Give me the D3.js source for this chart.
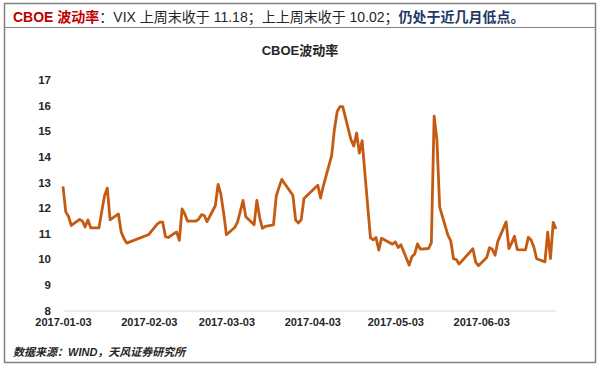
<!DOCTYPE html>
<html lang="zh">
<head>
<meta charset="utf-8">
<title>CBOE波动率</title>
<script src="https://cdn.jsdelivr.net/npm/d3@7"></script>
<style>
  body { margin: 0; background: #fff; }
  svg { display: block; }
  .axis text { font-family: "Liberation Sans", Arial, sans-serif; font-weight: bold; fill: #262626; }
  .axis--y .domain { display: none; }
</style>
</head>
<body>
<svg id="chart" width="600" height="368"></svg>
<script>

// VIX daily close, Wind calendar (China trading days)
var dates = [
  "2017-01-03","2017-01-04","2017-01-05","2017-01-06","2017-01-09","2017-01-10","2017-01-11","2017-01-12","2017-01-13",
  "2017-01-16","2017-01-17","2017-01-18","2017-01-19","2017-01-20","2017-01-23","2017-01-24","2017-01-25","2017-01-26",
  "2017-02-03","2017-02-06","2017-02-07","2017-02-08","2017-02-09","2017-02-10","2017-02-13","2017-02-14","2017-02-15",
  "2017-02-16","2017-02-17","2017-02-20","2017-02-21","2017-02-22","2017-02-23","2017-02-24","2017-02-27","2017-02-28",
  "2017-03-01","2017-03-02","2017-03-03","2017-03-06","2017-03-07","2017-03-08","2017-03-09","2017-03-10","2017-03-13",
  "2017-03-14","2017-03-15","2017-03-16","2017-03-17","2017-03-20","2017-03-21","2017-03-22","2017-03-23","2017-03-24",
  "2017-03-27","2017-03-28","2017-03-29","2017-03-30","2017-03-31","2017-04-05","2017-04-06","2017-04-07","2017-04-10",
  "2017-04-11","2017-04-12","2017-04-13","2017-04-14","2017-04-17","2017-04-18","2017-04-19","2017-04-20","2017-04-21",
  "2017-04-24","2017-04-25","2017-04-26","2017-04-27","2017-04-28","2017-05-02","2017-05-03","2017-05-04","2017-05-05",
  "2017-05-08","2017-05-09","2017-05-10","2017-05-11","2017-05-12","2017-05-15","2017-05-16","2017-05-17","2017-05-18",
  "2017-05-19","2017-05-22","2017-05-23","2017-05-24","2017-05-25","2017-05-26","2017-05-31","2017-06-01","2017-06-02",
  "2017-06-05","2017-06-06","2017-06-07","2017-06-08","2017-06-09","2017-06-12","2017-06-13","2017-06-14","2017-06-15",
  "2017-06-16","2017-06-19","2017-06-20","2017-06-21","2017-06-22","2017-06-23","2017-06-26","2017-06-27","2017-06-28",
  "2017-06-29","2017-06-30"
];

var vix = [
  12.85,11.85,11.67,11.32,11.56,11.49,11.26,11.54,11.23,
  11.23,11.87,12.48,12.78,11.54,11.77,11.07,10.81,10.63,
  10.97,11.37,11.45,11.45,10.88,10.85,11.07,10.74,11.97,
  11.76,11.49,11.49,11.57,11.74,11.71,11.47,12.09,12.92,
  12.54,11.81,10.96,11.24,11.45,11.86,12.30,11.66,11.35,
  12.30,11.63,11.21,11.28,11.34,12.47,12.81,13.12,12.96,
  12.50,11.53,11.42,11.54,12.37,12.89,12.39,12.87,14.05,
  15.07,15.77,15.96,15.96,14.66,14.42,14.93,14.15,14.63,
  10.84,10.76,10.85,10.36,10.82,10.59,10.68,10.46,10.57,
  9.77,10.11,10.21,10.60,10.40,10.42,10.65,15.59,14.66,
  12.04,10.93,10.72,10.02,9.99,9.81,10.41,9.89,9.75,
  10.07,10.45,10.39,10.16,10.70,11.46,10.42,10.64,10.90,
  10.38,10.37,10.86,10.75,10.48,10.02,9.90,11.06,10.03,
  11.44,11.18
];

var xTicks = ["2017-01-03","2017-02-03","2017-03-03","2017-04-03","2017-05-03","2017-06-03"];
var yTicks = [8, 9, 10, 11, 12, 13, 14, 15, 16, 17];

var parseTime = d3.timeParse("%Y-%m-%d");

var data = dates.map(function(d, i) { return {date: parseTime(d), value: vix[i]}; });

var svg = d3.select("#chart");

// frame
svg.append("rect")
    .attr("x", 4.5).attr("y", 3.5).attr("width", 591).attr("height", 359)
    .attr("fill", "none").attr("stroke", "#7f7f7f").attr("stroke-width", 1.5);
svg.append("line")
    .attr("x1", 4.5).attr("x2", 595.5).attr("y1", 27.5).attr("y2", 27.5)
    .attr("stroke", "#7f7f7f").attr("stroke-width", 1.2);

// header
var head = svg.append("text")
    .attr("x", 13).attr("y", 22)
    .style("font-family", "'Liberation Sans', 'Noto Sans CJK SC', sans-serif")
    .style("font-size", "14px");
head.append("tspan").attr("fill", "#c00000").style("font-weight", "bold").text("CBOE ");
head.append("tspan").attr("fill", "#c00000").style("font-weight", "bold")
    .style("font-family", "'Noto Sans CJK SC'").text("波动率");
head.append("tspan").attr("fill", "#262626").text("：VIX 上周末收于 11.18；上上周末收于 10.02；");
head.append("tspan").attr("fill", "#1f3864").style("font-weight", "bold")
    .style("font-family", "'Noto Sans CJK SC'").text("仍处于近几月低点。");

// title
svg.append("text")
    .attr("x", 300).attr("y", 55)
    .attr("text-anchor", "middle")
    .style("font-family", "'Liberation Sans', 'Noto Sans CJK SC', sans-serif")
    .style("font-size", "13px").style("font-weight", "bold")
    .attr("fill", "#262626")
    .text("CBOE波动率");

var x = d3.scaleTime()
    .domain([parseTime("2017-01-03"), parseTime("2017-06-30")])
    .range([63, 556]);

var y = d3.scaleLinear()
    .domain([8, 17])
    .range([310.5, 80]);

var xAxis = svg.append("g")
    .attr("class", "axis axis--x")
    .attr("transform", "translate(0," + y(8) + ")")
    .call(d3.axisBottom(x)
      .tickValues(xTicks.map(parseTime))
      .tickFormat(d3.timeFormat("%Y-%m-%d"))
      .tickSize(0)
      .tickPadding(8));
xAxis.select(".domain").attr("stroke", "#d9d9d9").attr("stroke-width", 1.2);
xAxis.selectAll("text").style("font-size", "11px");

var yAxis = svg.append("g")
    .attr("class", "axis axis--y")
    .attr("transform", "translate(63,0)")
    .call(d3.axisLeft(y).tickValues(yTicks).tickSize(0).tickPadding(12));
yAxis.selectAll("text").style("font-size", "11.5px");

var line = d3.line()
    .x(function(d) { return x(d.date); })
    .y(function(d) { return y(d.value); });

svg.append("path")
    .datum(data)
    .attr("fill", "none")
    .attr("stroke", "#c55a11")
    .attr("stroke-width", 2.8)
    .attr("stroke-linejoin", "round")
    .attr("d", line);

// source
svg.append("text")
    .attr("x", 13).attr("y", 356)
    .style("font-family", "'Liberation Sans', 'Noto Sans CJK SC', sans-serif")
    .style("font-size", "11px").style("font-style", "italic").style("font-weight", "bold")
    .attr("fill", "#262626")
    .text("数据来源：WIND，天风证券研究所");

</script>
</body>
</html>
